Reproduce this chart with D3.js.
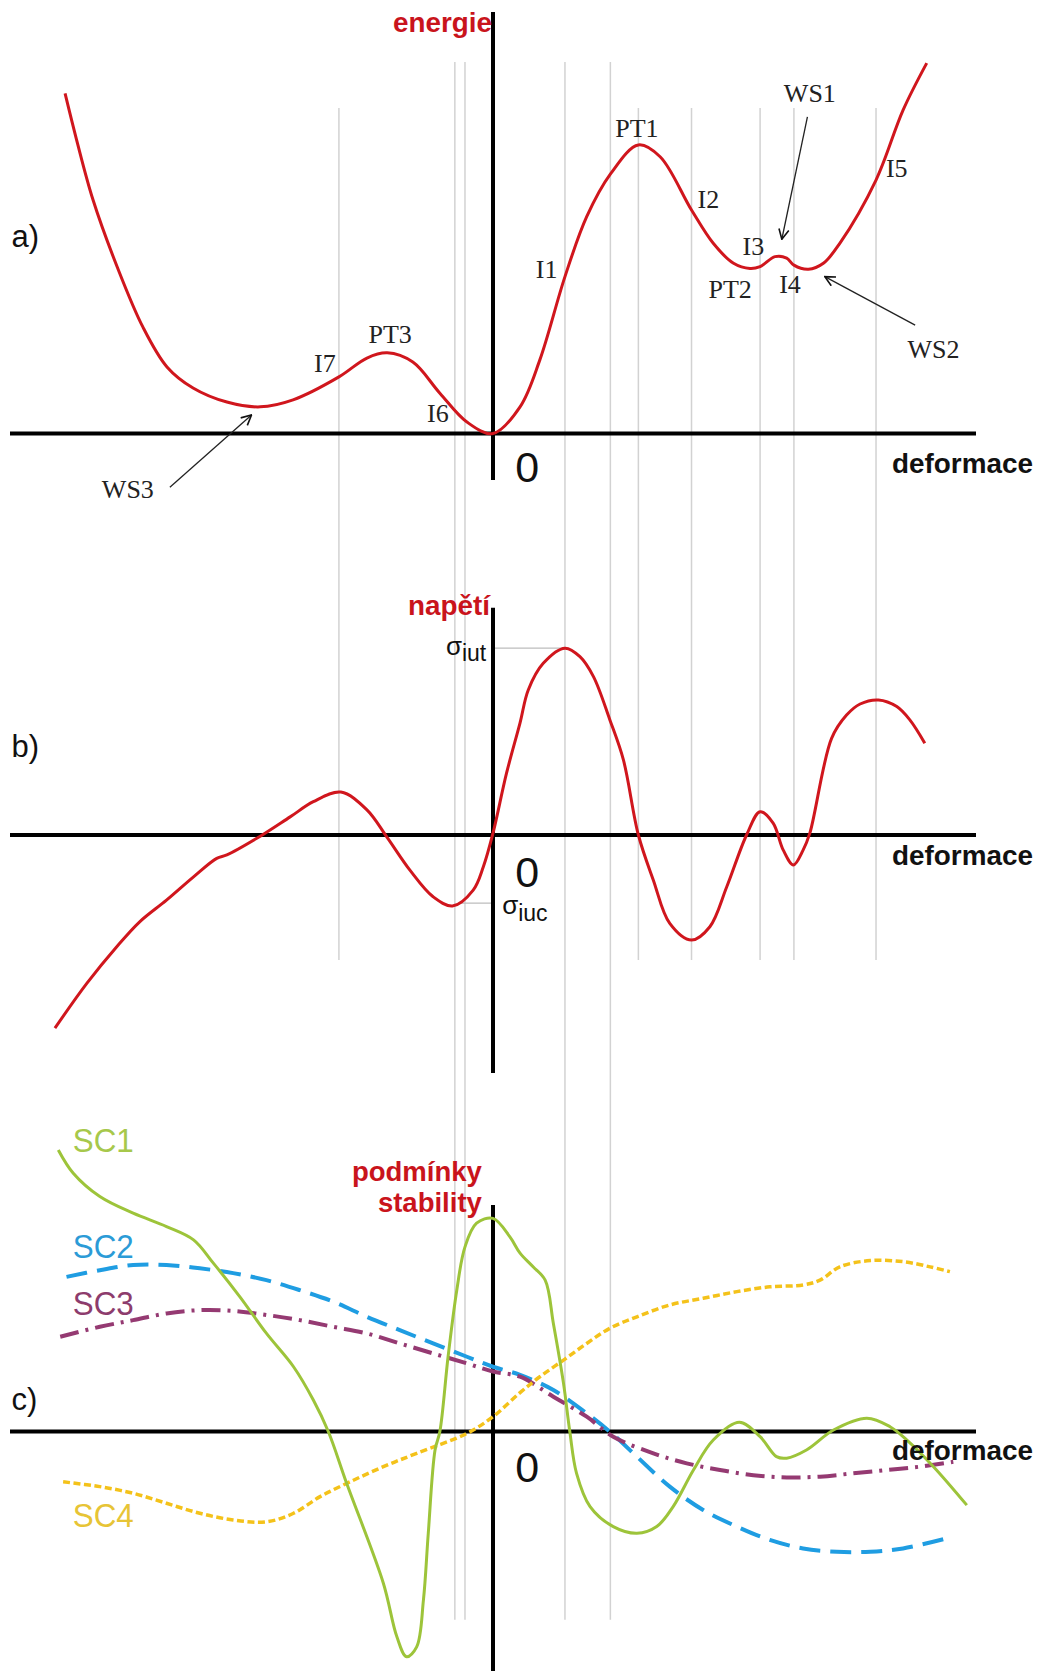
<!DOCTYPE html>
<html><head><meta charset="utf-8">
<script src="https://cdn.jsdelivr.net/npm/d3@7"></script>
<style>body{margin:0;background:#fff} svg{display:block}</style>
</head><body><svg id="chart" width="1042" height="1671"></svg>
<script>
// ---- data (deformation x, value y) ----
const energy = [[-8.86,9.19],[-8.62,7.93],[-8.28,6.31],[-7.78,4.50],[-7.25,2.88],[-6.75,1.80],[-6.21,1.23],[-5.51,0.85],[-4.82,0.72],[-4.14,0.91],[-3.19,1.53],[-2.61,2.04],[-2.19,2.18],[-1.66,1.93],[-1.10,1.09],[-0.54,0.31],[0,0],[0.56,0.72],[0.97,1.99],[1.49,4.24],[1.94,5.86],[2.44,7.03],[3.01,7.80],[3.46,7.48],[4.11,6.04],[4.56,5.14],[4.98,4.60],[5.32,4.46],[5.53,4.51],[5.84,4.78],[6.08,4.74],[6.23,4.55],[6.53,4.44],[6.84,4.60],[7.18,5.14],[7.93,6.85],[8.49,8.74],[8.98,10.01]];
const stress = [[-9.07,-5.22],[-8.41,-4.01],[-7.79,-3.02],[-7.31,-2.34],[-6.76,-1.76],[-6.20,-1.13],[-5.72,-0.63],[-5.51,-0.54],[-4.89,-0.09],[-4.20,0.49],[-3.72,0.90],[-3.15,1.16],[-2.61,0.68],[-2.20,-0.05],[-1.72,-0.95],[-1.24,-1.67],[-0.84,-1.92],[-0.41,-1.49],[-0.20,-0.86],[0,0.05],[0.28,1.67],[0.56,3.03],[0.73,3.92],[1.04,4.64],[1.49,5.05],[1.80,4.82],[2.08,4.28],[2.42,3.11],[2.70,2.03],[3.01,0],[3.32,-1.22],[3.66,-2.39],[4.11,-2.84],[4.49,-2.48],[4.84,-1.40],[5.25,0],[5.53,0.63],[5.80,0.32],[6.01,-0.41],[6.22,-0.81],[6.42,-0.41],[6.56,0.05],[7.01,2.61],[7.32,3.24],[7.60,3.54],[7.98,3.65],[8.36,3.47],[8.63,3.11],[8.94,2.48]];
const sc1 = [[-9.00,7.61],[-8.69,6.98],[-8.14,6.35],[-7.45,5.90],[-6.76,5.54],[-6.20,5.18],[-5.79,4.55],[-5.24,3.64],[-4.69,2.65],[-4.13,1.75],[-3.72,0.85],[-3.41,0],[-3.03,-1.40],[-2.27,-4.10],[-1.99,-5.55],[-1.79,-6.09],[-1.58,-5.82],[-1.44,-4.55],[-1.34,-2.75],[-1.20,-0.50],[-1.10,0],[-0.93,2.02],[-0.75,3.82],[-0.58,4.99],[-0.34,5.63],[0,5.76],[0.35,5.26],[0.56,4.82],[0.83,4.45],[1.08,4.09],[1.25,2.92],[1.46,1.30],[1.59,0],[1.73,-1.13],[2.01,-2.03],[2.49,-2.57],[2.98,-2.75],[3.39,-2.57],[3.73,-2.03],[4.15,-1.04],[4.56,-0.23],[5.10,0.25],[5.53,-0.14],[5.87,-0.68],[6.08,-0.72],[6.49,-0.50],[7.05,0.04],[7.74,0.36],[8.22,0.13],[8.57,-0.23],[9.12,-0.95],[9.81,-1.99]];
const sc2 = [[-8.83,4.18],[-8.14,4.36],[-7.45,4.50],[-6.76,4.50],[-6.07,4.41],[-5.38,4.28],[-4.69,4.09],[-4.00,3.82],[-3.31,3.51],[-2.61,3.10],[-1.93,2.74],[-1.24,2.38],[-0.54,2.02],[0,1.75],[0.56,1.53],[1.25,1.12],[1.94,0.49],[2.46,-0.05],[2.98,-0.68],[3.66,-1.49],[4.35,-2.12],[5.05,-2.57],[5.73,-2.93],[6.42,-3.16],[7.12,-3.25],[7.81,-3.25],[8.49,-3.16],[9.39,-2.89]];
const sc3 = [[-8.96,2.56],[-8.14,2.83],[-7.45,3.01],[-6.76,3.19],[-6.07,3.28],[-5.38,3.26],[-4.69,3.15],[-4.00,3.01],[-3.31,2.83],[-2.61,2.65],[-1.93,2.38],[-1.24,2.11],[-0.54,1.84],[0,1.62],[0.56,1.48],[1.25,0.94],[1.94,0.40],[2.49,-0.14],[3.32,-0.59],[4.01,-0.86],[4.70,-1.04],[5.39,-1.18],[6.08,-1.24],[6.77,-1.22],[7.46,-1.13],[8.15,-1.04],[8.84,-0.95],[9.53,-0.82]];
const sc4 = [[-8.90,-1.36],[-8.14,-1.49],[-7.45,-1.67],[-6.76,-1.94],[-6.07,-2.21],[-5.38,-2.39],[-4.69,-2.44],[-4.13,-2.21],[-3.58,-1.76],[-2.96,-1.36],[-2.27,-0.95],[-1.58,-0.59],[-0.54,-0.05],[0,0.40],[0.56,1.05],[0.97,1.48],[1.46,1.93],[1.94,2.38],[2.42,2.79],[2.98,3.10],[3.66,3.42],[4.35,3.60],[5.05,3.78],[5.73,3.91],[6.42,3.96],[6.77,4.09],[7.18,4.45],[7.81,4.62],[8.49,4.59],[9.05,4.45],[9.46,4.32]];
const guideShort = [-3.19, 3.01, 4.11, 5.53, 6.23, 7.93];
const guideLong = [-0.79, -0.58, 1.49, 2.43];
const energyLabels = [["PT3",-2.13,2.45],["I7",-3.48,1.66],["I6",-1.14,0.31],["WS3",-7.56,-1.74],["PT1",2.98,8.02],["I1",1.11,4.20],["I2",4.46,6.09],["I3",5.39,4.82],["PT2",4.91,3.66],["I4",6.15,3.80],["WS1",6.56,8.97],["I5",8.36,6.94],["WS2",9.12,2.03]];
const arrows = [[-6.69,-1.45,-5.00,0.50],[6.51,8.56,5.98,5.25],[8.74,2.93,6.87,4.24]];
const scNames = ["SC1","SC2","SC3","SC4"];
const scLabelY = [7.55,4.69,3.15,-2.58];
const sigmaTensile = 5.05, sigmaTensileX = 1.49, sigmaCompress = -1.84, sigmaCompressX = -0.72;

// ---- scales ----
const svg = d3.select("#chart");
const x = d3.scaleLinear().domain([-10,10]).range([10,976]);
const yA = d3.scaleLinear().domain([0,10]).range([433.5,63.5]);
const yB = d3.scaleLinear().domain([0,5]).range([835,650]);
const yC = d3.scaleLinear().domain([0,5]).range([1431.5,1246.5]);

const red = "#d0161d", redText = "#c9141c";
const sans = "Arial, 'Liberation Sans', sans-serif";
const serif = "'Times New Roman', 'Liberation Serif', serif";

// grid guides
const g0 = svg.append("g").attr("stroke","#d2d2d2").attr("stroke-width",1.5);
guideShort.forEach(v => g0.append("line").attr("x1",x(v)).attr("x2",x(v)).attr("y1",yA(8.8)).attr("y2",yB(-3.38)));
guideLong.forEach(v => g0.append("line").attr("x1",x(v)).attr("x2",x(v)).attr("y1",yA(10.04)).attr("y2",yC(-5.09)));

// sigma guides
svg.append("line").attr("x1",x(0)).attr("x2",x(sigmaTensileX)).attr("y1",yB(sigmaTensile)).attr("y2",yB(sigmaTensile)).attr("stroke","#bdbdbd").attr("stroke-width",1.3);
svg.append("line").attr("x1",x(sigmaCompressX)).attr("x2",x(0)).attr("y1",yB(sigmaCompress)).attr("y2",yB(sigmaCompress)).attr("stroke","#bdbdbd").attr("stroke-width",1.3);

// axes
function axes(y, top, bottom){
  svg.append("line").attr("x1",x(-10)).attr("x2",x(10)).attr("y1",y(0)).attr("y2",y(0)).attr("stroke","#000").attr("stroke-width",4);
  svg.append("line").attr("x1",x(0)).attr("x2",x(0)).attr("y1",y(top)).attr("y2",y(bottom)).attr("stroke","#000").attr("stroke-width",4);
}
axes(yA, 11.39, -1.26);
axes(yB, 6.14, -6.43);
axes(yC, 6.12, -6.47);

// curves
function curve(data, y, color, w, dash){
  const p = svg.append("path").datum(data)
    .attr("d", d3.line().x(d=>x(d[0])).y(d=>y(d[1])).curve(d3.curveCatmullRom.alpha(0.5)))
    .attr("fill","none").attr("stroke",color).attr("stroke-width",w)
    .attr("stroke-linejoin","round").attr("stroke-linecap","butt");
  if (dash) p.attr("stroke-dasharray",dash);
  return p;
}
curve(energy, yA, red, 3);
curve(stress, yB, red, 3);
curve(sc2, yC, "#1f9de2", 4, "21,10");
curve(sc3, yC, "#953a72", 4, "19,7,3,7");
curve(sc4, yC, "#f4c21a", 3.5, "7,3.5");
curve(sc1, yC, "#9dc43a", 3);

// arrows
svg.append("defs").append("marker").attr("id","arr").attr("markerUnits","userSpaceOnUse")
  .attr("viewBox","0 0 12 12").attr("refX",11).attr("refY",6).attr("markerWidth",12).attr("markerHeight",12).attr("orient","auto")
  .append("path").attr("d","M1,1 L11,6 L1,11").attr("fill","none").attr("stroke","#111").attr("stroke-width",1.6);
arrows.forEach(a => svg.append("line").attr("x1",x(a[0])).attr("y1",yA(a[1])).attr("x2",x(a[2])).attr("y2",yA(a[3]))
  .attr("stroke","#222").attr("stroke-width",1.3).attr("marker-end","url(#arr)"));

// energy labels
svg.append("g").selectAll("text").data(energyLabels).join("text")
  .attr("x",d=>x(d[1])).attr("y",d=>yA(d[2])).attr("text-anchor","middle")
  .attr("font-family",serif).attr("font-size",26).attr("fill","#222").text(d=>d[0]);

// text helper
function txt(s, px, py, opts){
  const t = svg.append("text").attr("x",px).attr("y",py).text(s)
    .attr("font-family",sans).attr("font-size",opts.size||28)
    .attr("font-weight",opts.bold?"bold":"normal").attr("fill",opts.fill||"#111")
    .attr("text-anchor",opts.anchor||"start");
  if (opts.len) t.attr("textLength",opts.len).attr("lengthAdjust","spacingAndGlyphs");
  return t;
}
// panel letters
txt("a)", x(-9.97), yA(5.04), {size:31});
txt("b)", x(-9.97), yB(2.11), {size:31});
txt("c)", x(-9.97), yC(0.58), {size:31});
// axis titles
txt("energie", x(-0.02), yA(10.85), {bold:true, fill:redText, anchor:"end", size:27, len:99});
txt("napětí", x(-0.06), yB(5.95), {bold:true, fill:redText, anchor:"end", size:27, len:82});
txt("podmínky", x(-0.23), yC(6.77), {bold:true, fill:redText, anchor:"end", size:27, len:130});
txt("stability", x(-0.23), yC(5.93), {bold:true, fill:redText, anchor:"end", size:27, len:104});
// deformace and 0
[[yA,-1.07,-1.31],[yB,-0.81,-1.41],[yC,-0.77,-1.36]].forEach(p=>{
  txt("deformace", x(11.18), p[0](p[1]), {bold:true, anchor:"end", size:28, len:141});
  txt("0", x(0.46), p[0](p[2]), {size:43});
});
// sigma labels
const s1 = svg.append("text").attr("x",x(-0.14)).attr("y",yB(4.86)).attr("text-anchor","end")
  .attr("font-family",sans).attr("font-size",26).attr("fill","#111");
s1.append("tspan").text("σ");
s1.append("tspan").attr("font-size",23).attr("dy",6).text("iut");
const s2 = svg.append("text").attr("x",x(0.19)).attr("y",yB(-2.14)).attr("text-anchor","start")
  .attr("font-family",sans).attr("font-size",26).attr("fill","#111");
s2.append("tspan").text("σ");
s2.append("tspan").attr("font-size",23).attr("dy",7).text("iuc");
// SC labels
const scColors = ["#a7c84b","#2b9bd7","#8d3c6d","#e7c436"];
scNames.forEach((n,i)=> txt(n, x(-8.70), yC(scLabelY[i]), {size:33, fill:scColors[i], len:61}));
</script>
</body></html>
